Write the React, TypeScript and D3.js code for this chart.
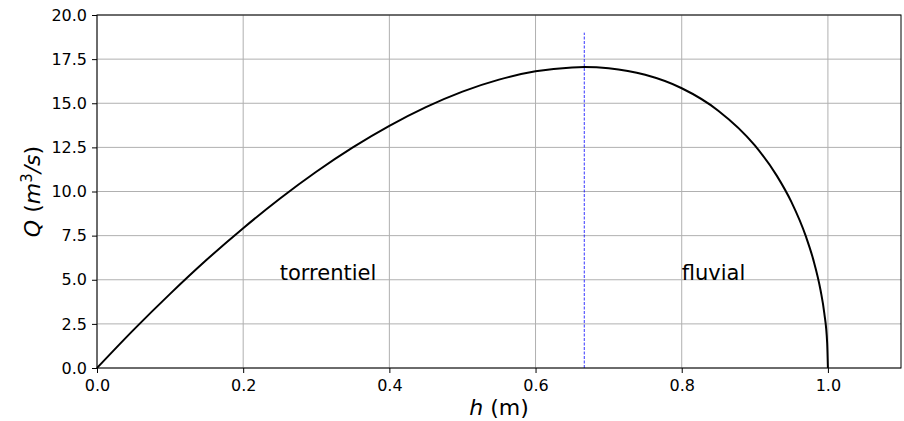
import React, { useRef, useEffect } from "react";
import * as d3 from "d3";

// h (m) and Q (m3/s)
const hValues = [0, 0.05, 0.1, 0.15, 0.2, 0.25, 0.3, 0.35, 0.4, 0.45, 0.5, 0.55, 0.6, 0.65, 0.667, 0.7, 0.75, 0.8, 0.85, 0.9, 0.93, 0.95, 0.97, 0.98, 0.99, 0.995, 0.999, 1.0];
const qValues = [0, 2.16, 4.2, 6.13, 7.92, 9.59, 11.12, 12.5, 13.72, 14.78, 15.66, 16.34, 16.81, 17.03, 17.05, 16.98, 16.61, 15.85, 14.58, 12.61, 10.9, 9.41, 7.44, 6.14, 4.39, 3.12, 1.4, 0];

const xTicks = [0, 0.2, 0.4, 0.6, 0.8, 1.0];
const yTicks = [0, 2.5, 5, 7.5, 10, 12.5, 15, 17.5, 20];

const hCritical = 2 / 3;
const criticalTop = 19;

const regimeLabels = [
  { text: "torrentiel", h: 0.25, q: 5 },
  { text: "fluvial", h: 0.8, q: 5 },
];

const W = 904;
const H = 421;
const margin = { top: 15, right: 3, bottom: 53, left: 97 };
const font = "'DejaVu Sans', sans-serif";

const Chart = () => {
  const ref = useRef<SVGSVGElement>(null);

  useEffect(() => {
    const svg = d3.select(ref.current);
    svg.selectAll("*").remove();

    const x = d3.scaleLinear().domain([0, 1.1]).range([margin.left, W - margin.right]);
    const y = d3.scaleLinear().domain([0, 20]).range([H - margin.bottom, margin.top]);

    svg.append("rect").attr("width", W).attr("height", H).attr("fill", "#fff");

    // grid
    const grid = svg.append("g").attr("stroke", "#b0b0b0").attr("stroke-width", 1);
    grid.selectAll("line.gx").data(xTicks).enter().append("line")
      .attr("x1", (d) => x(d)).attr("x2", (d) => x(d))
      .attr("y1", y(0)).attr("y2", y(20));
    grid.selectAll("line.gy").data(yTicks).enter().append("line")
      .attr("x1", x(0)).attr("x2", x(1.1))
      .attr("y1", (d) => y(d)).attr("y2", (d) => y(d));

    // critical depth line
    svg.append("line")
      .attr("x1", x(hCritical)).attr("x2", x(hCritical))
      .attr("y1", y(0)).attr("y2", y(criticalTop))
      .attr("stroke", "blue").attr("stroke-width", 0.8)
      .attr("stroke-dasharray", "3,1.5");

    // curve
    const pts = hValues.map((h, i) => [h, qValues[i]] as [number, number]);
    const line = d3.line<[number, number]>()
      .x((d) => x(d[0]))
      .y((d) => y(d[1]))
      .curve(d3.curveMonotoneX);
    svg.append("path")
      .datum(pts)
      .attr("d", line)
      .attr("fill", "none")
      .attr("stroke", "#000")
      .attr("stroke-width", 2);

    // frame
    svg.append("rect")
      .attr("x", x(0)).attr("y", y(20))
      .attr("width", x(1.1) - x(0)).attr("height", y(0) - y(20))
      .attr("fill", "none").attr("stroke", "#000").attr("stroke-width", 1);

    // axes
    const xAxis = d3.axisBottom(x).tickValues(xTicks).tickFormat(d3.format(".1f")).tickSizeOuter(0).tickSize(5).tickPadding(7);
    const yAxis = d3.axisLeft(y).tickValues(yTicks).tickFormat(d3.format(".1f")).tickSizeOuter(0).tickSize(5).tickPadding(5);
    const gx = svg.append("g").attr("transform", `translate(0,${y(0)})`).call(xAxis);
    const gy = svg.append("g").attr("transform", `translate(${x(0)},0)`).call(yAxis);
    [gx, gy].forEach((g) => {
      g.select(".domain").remove();
      g.selectAll("text").attr("font-family", font).attr("font-size", 16).attr("fill", "#000");
      g.selectAll("line").attr("stroke", "#000").attr("stroke-width", 1);
    });

    // regime labels
    svg.selectAll("text.regime").data(regimeLabels).enter().append("text")
      .attr("x", (d) => x(d.h)).attr("y", (d) => y(d.q))
      .attr("font-family", font).attr("font-size", 21)
      .text((d) => d.text);

    // axis labels
    const xl = svg.append("text")
      .attr("x", x(0.55)).attr("y", 415)
      .attr("text-anchor", "middle")
      .attr("font-family", font).attr("font-size", 22);
    xl.append("tspan").attr("font-style", "italic").text("h");
    xl.append("tspan").text(" (m)");

    const yl = svg.append("text")
      .attr("transform", `translate(40,${y(10)}) rotate(-90)`)
      .attr("text-anchor", "middle")
      .attr("font-family", font).attr("font-size", 22);
    yl.append("tspan").attr("font-style", "italic").text("Q");
    yl.append("tspan").text(" (");
    yl.append("tspan").attr("font-style", "italic").text("m");
    yl.append("tspan").attr("font-size", 15).attr("dy", -8).text("3");
    yl.append("tspan").attr("dy", 8).attr("font-style", "italic").text("/s");
    yl.append("tspan").text(")");
  }, []);

  return <svg ref={ref} width={W} height={H} style={{ display: "block" }} />;
};

export default function App() {
  return (
    <div style={{ position: "fixed", left: 0, top: 0 }}>
      <Chart />
    </div>
  );
}
